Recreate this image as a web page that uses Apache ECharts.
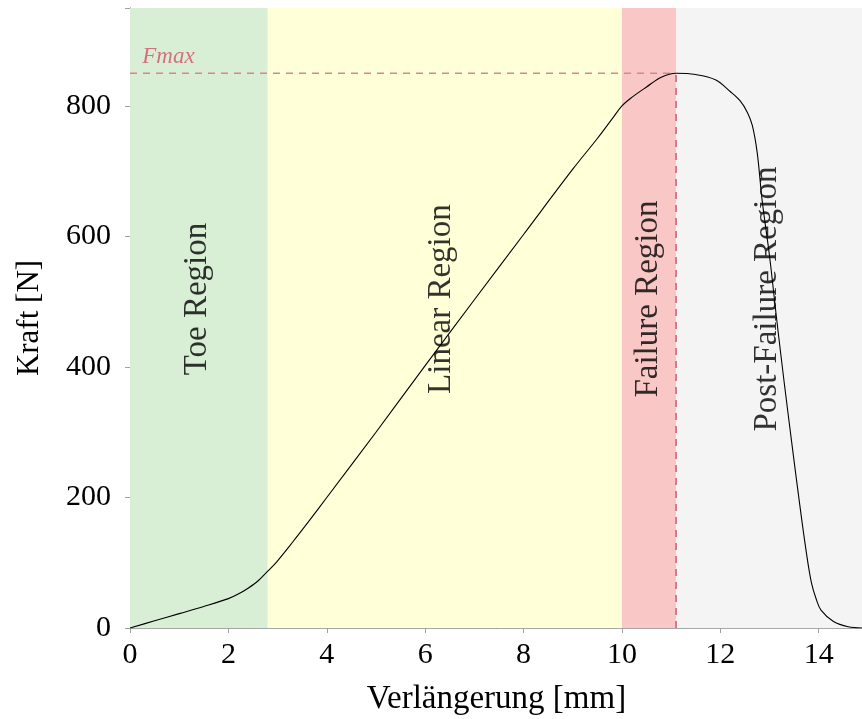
<!DOCTYPE html>
<html>
<head>
<meta charset="utf-8">
<style>
  html, body { margin: 0; padding: 0; background: #ffffff; }
  #chart { width: 862px; height: 719px; }
</style>
<script src="https://cdn.jsdelivr.net/npm/echarts@6/dist/echarts.min.js"></script>
</head>
<body>
<div id="chart"></div>
<script>
// Force–elongation curve of a tensile test
var elongation = [0, 0.5, 1, 1.5, 2, 2.2, 2.4, 2.6, 2.8, 3.0, 3.3, 3.66, 4, 5, 6, 7, 8, 9, 9.5, 9.8, 10, 10.2, 10.5, 10.8, 11.1, 11.5, 11.9, 12.2, 12.4, 12.55, 12.65, 12.75, 12.85, 13.0, 13.15, 13.3, 13.47, 13.6, 13.74, 13.85, 13.95, 14.05, 14.3, 14.6, 14.9];
var force      = [0, 11, 22, 33, 45, 52, 61, 72, 87, 103, 131, 166, 200, 300, 402, 503, 603, 703, 750, 780, 800, 813, 829, 844, 850, 848, 840, 822, 808, 790, 770, 728, 655, 570, 470, 375, 273, 197, 120, 70, 44, 27, 10, 2, 0];

// Regions [start, end] in mm and their names
var regionNames  = ['Toe Region', 'Linear Region', 'Failure Region', 'Post-Failure Region'];
var regionBounds = [[0, 2.8], [2.8, 10], [10, 11.1], [11.1, 14.9]];
var regionColors = ['#d8efd5', '#ffffd8', '#f9c8c6', '#f4f4f4'];
var regionLabelX = [1.36, 6.33, 10.54, 12.95];
var regionLabelY = 504;

// Maximum force
var fmaxX = 11.1;
var fmaxY = 850;
var fmaxLabel = 'Fmax';

var xTicks = { min: 0, max: 14.9, interval: 2 };
var yTicks = { min: 0, max: 950, interval: 200 };

var serif = 'Liberation Serif';

var chart = echarts.init(document.getElementById('chart'), null, { renderer: 'canvas' });

function axisBase(extra) {
  var base = {
    type: 'value',
    splitLine: { show: false },
    axisLabel: { show: false },
    axisLine: { show: false },
    axisTick: { show: true, inside: true, length: 5, lineStyle: { color: '#a0a0a0', width: 1 } }
  };
  return Object.assign(base, extra);
}

var option = {
  animation: false,
  backgroundColor: '#ffffff',
  grid: { left: 130, top: 8, right: -1, bottom: 91, containLabel: false, outerBoundsMode: 'none' },
  xAxis: [
    axisBase({
      position: 'bottom', min: xTicks.min, max: xTicks.max, interval: xTicks.interval,
      axisLine: { show: true, lineStyle: { color: '#333333', width: 1 } },
      axisLabel: { show: true, showMaxLabel: false, margin: 12, color: '#000', fontFamily: serif, fontSize: 30 },
      name: 'Verlängerung [mm]', nameLocation: 'middle', nameGap: 55,
      nameTextStyle: { color: '#000', fontFamily: serif, fontSize: 33 }
    }),
    axisBase({
      position: 'bottom', min: xTicks.min, max: xTicks.max, interval: xTicks.interval,
      axisTick: { show: true, inside: false, length: 5, lineStyle: { color: '#a0a0a0', width: 1 } }
    }),
    axisBase({
      position: 'top', min: xTicks.min, max: xTicks.max, interval: xTicks.interval,
      axisLine: { show: true, lineStyle: { color: '#a8a8a8', width: 1 } }
    })
  ],
  yAxis: [
    axisBase({
      position: 'left', min: yTicks.min, max: yTicks.max, interval: yTicks.interval,
      axisLine: { show: true, lineStyle: { color: '#555555', width: 1 } },
      axisLabel: { show: true, showMaxLabel: false, margin: 19, color: '#000', fontFamily: serif, fontSize: 30 },
      name: 'Kraft [N]', nameLocation: 'middle', nameGap: 85,
      nameTextStyle: { color: '#000', fontFamily: serif, fontSize: 31 }
    }),
    axisBase({
      position: 'left', min: yTicks.min, max: yTicks.max, interval: yTicks.interval,
      axisTick: { show: true, inside: false, length: 5, lineStyle: { color: '#a0a0a0', width: 1 } }
    }),
    axisBase({
      position: 'right', min: yTicks.min, max: yTicks.max, interval: yTicks.interval
    })
  ],
  series: [
    {
      // coloured regions drawn behind everything
      type: 'line',
      data: [],
      silent: true,
      z: 0,
      markArea: {
        silent: true,
        itemStyle: { opacity: 1 },
        data: regionBounds.map(function (b, i) {
          return [
            { xAxis: b[0], yAxis: yTicks.max, itemStyle: { color: regionColors[i] } },
            { xAxis: b[1], yAxis: yTicks.min }
          ];
        })
      }
    },
    {
      // region names, vertical text
      type: 'scatter',
      symbolSize: 0,
      silent: true,
      z: 3,
      data: regionNames.map(function (n, i) { return { value: [regionLabelX[i], regionLabelY], name: n }; }),
      label: {
        show: true,
        position: 'inside',
        rotate: 90,
        formatter: function (p) { return p.name; },
        color: '#000',
        fontFamily: serif,
        fontSize: 33
      }
    },
    {
      // horizontal Fmax reference
      type: 'line',
      data: [[0, fmaxY], [fmaxX, fmaxY]],
      symbol: 'none',
      silent: true,
      z: 4,
      lineStyle: { color: '#dc8391', width: 1.3, type: [7, 6] }
    },
    {
      // vertical line at the position of Fmax
      type: 'line',
      data: [[fmaxX, 0], [fmaxX, fmaxY]],
      symbol: 'none',
      silent: true,
      z: 4,
      lineStyle: { color: '#c43a52', width: 1.2, type: [7, 6] }
    },
    {
      type: 'scatter',
      symbolSize: 0,
      silent: true,
      z: 5,
      data: [{ value: [0.25, 875], name: fmaxLabel }],
      label: {
        show: true,
        position: 'inside',
        align: 'left',
        formatter: function (p) { return p.name; },
        color: '#d2506c',
        fontFamily: serif,
        fontStyle: 'italic',
        fontSize: 23
      }
    },
    {
      // measured curve
      type: 'line',
      data: elongation.map(function (x, i) { return [x, force[i]]; }),
      symbol: 'none',
      smooth: 0.35,
      silent: true,
      z: 6,
      lineStyle: { color: '#000000', width: 1.1 }
    }
  ]
};

chart.setOption(option);
</script>
</body>
</html>
